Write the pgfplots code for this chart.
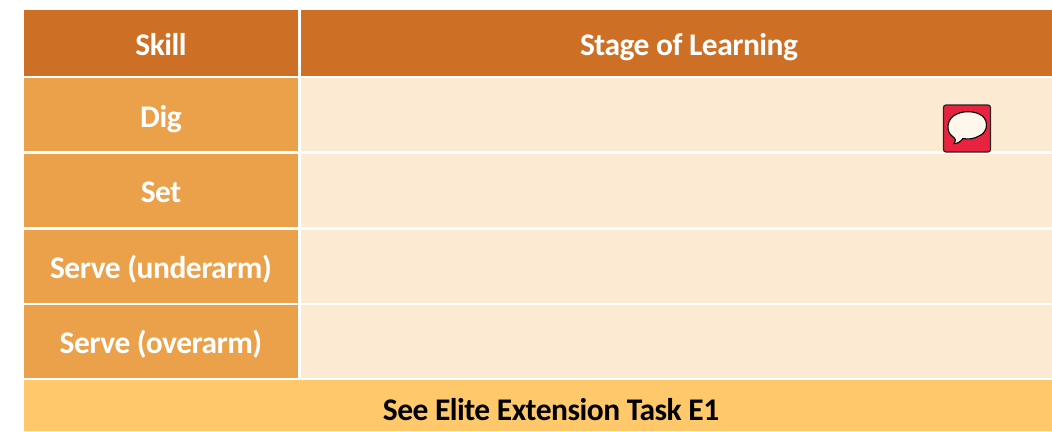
\documentclass[border=0pt]{standalone}
\usepackage{pgfplots}
\pgfplotsset{compat=1.18}
\usepackage{fontspec}
\setmainfont[LetterSpace=-1.6]{Carlito}
\definecolor{hdr}{HTML}{CD7026}
\definecolor{skill}{HTML}{EBA04A}
\definecolor{cell}{HTML}{FCEBD2}
\definecolor{foot}{HTML}{FFC96B}
\definecolor{icon}{HTML}{E8233F}
\definecolor{bub}{HTML}{FFF6EC}
\tikzset{lbl/.style={font=\fontsize{31.5}{31.5}\selectfont\bfseries,text=white,anchor=base,inner sep=0pt}}
\begin{document}
\begin{tikzpicture}[x=1pt,y=1pt]
\begin{axis}[
  at={(0,0)},anchor=south west,
  scale only axis,width=1052pt,height=431pt,
  xmin=0,xmax=1052,ymin=0,ymax=431,y dir=reverse,
  hide axis,clip=true,
  every axis plot/.append style={draw=none},
]
% header
\addplot[fill=hdr] coordinates {(24,10)(298,10)(298,75.5)(24,75.5)} --cycle;
\addplot[fill=hdr] coordinates {(300.5,10)(1052,10)(1052,75.5)(300.5,75.5)} --cycle;
% first column
\addplot[fill=skill] coordinates {(24,77.5)(298,77.5)(298,151)(24,151)} --cycle;
\addplot[fill=skill] coordinates {(24,153.5)(298,153.5)(298,227)(24,227)} --cycle;
\addplot[fill=skill] coordinates {(24,229.5)(298,229.5)(298,302.5)(24,302.5)} --cycle;
\addplot[fill=skill] coordinates {(24,305)(298,305)(298,378)(24,378)} --cycle;
% second column
\addplot[fill=cell] coordinates {(300.5,77.5)(1052,77.5)(1052,151)(300.5,151)} --cycle;
\addplot[fill=cell] coordinates {(300.5,153.5)(1052,153.5)(1052,227)(300.5,227)} --cycle;
\addplot[fill=cell] coordinates {(300.5,229.5)(1052,229.5)(1052,302.5)(300.5,302.5)} --cycle;
\addplot[fill=cell] coordinates {(300.5,305)(1052,305)(1052,378)(300.5,378)} --cycle;
% footer
\addplot[fill=foot] coordinates {(24,380)(1052,380)(1052,431)(24,431)} --cycle;
% icon
\draw[draw=black!85,line width=1.2pt,fill=icon,rounded corners=2.5pt]
  (axis cs:943.5,105) rectangle (axis cs:990.5,152);
\draw[draw=black,line width=1.1pt,fill=bub]
  (axis cs:952,136) .. controls (axis cs:946,132) and (axis cs:946,118) .. (axis cs:957,114)
  .. controls (axis cs:963,111) and (axis cs:973,111) .. (axis cs:979,114)
  .. controls (axis cs:989,118) and (axis cs:989,132) .. (axis cs:979,136)
  .. controls (axis cs:974,139) and (axis cs:968,139.5) .. (axis cs:963,138.5)
  .. controls (axis cs:960,142) and (axis cs:957,144) .. (axis cs:954,143.5)
  .. controls (axis cs:956,141) and (axis cs:956,138.5) .. cycle;
% text
\node[lbl] at (axis cs:161,55) {Skill};
\node[lbl] at (axis cs:689,55) {Stage of Learning};
\node[lbl] at (axis cs:161,127) {Dig};
\node[lbl] at (axis cs:161,202) {Set};
\node[lbl] at (axis cs:161,278) {Serve (underarm)};
\node[lbl] at (axis cs:161,353) {Serve (overarm)};
\node[lbl,text=black] at (axis cs:551,420) {See Elite Extension Task E1};
\end{axis}
\path[use as bounding box] (0,0) rectangle (1052,431);
\end{tikzpicture}
\end{document}
